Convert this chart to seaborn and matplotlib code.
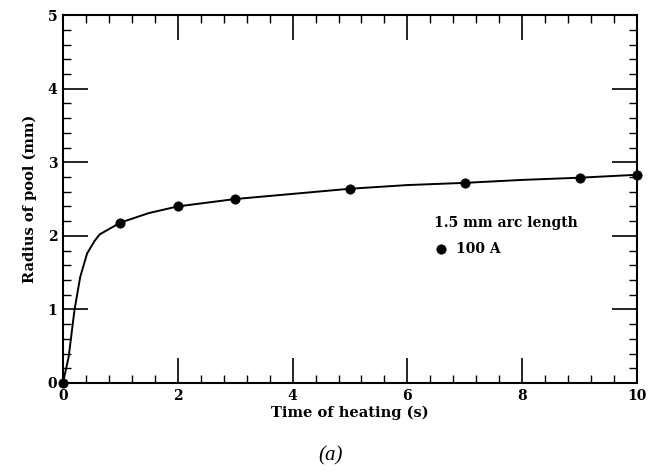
import matplotlib
matplotlib.use("Agg")
import matplotlib.pyplot as plt
import seaborn as sns
import pandas as pd
from matplotlib.ticker import MultipleLocator

# Measured points (100 A, 1.5 mm arc length)
time_pts = [0, 1, 2, 3, 5, 7, 9, 10]
radius_pts = [0.0, 2.18, 2.40, 2.50, 2.64, 2.72, 2.79, 2.83]

# Fitted curve
time_curve = [0, 0.1, 0.2, 0.3, 0.42, 0.55, 0.64, 0.82, 1, 1.5, 2, 3, 4, 5, 6, 7, 8, 9, 10]
radius_curve = [0, 0.36, 0.99, 1.44, 1.76, 1.93, 2.02, 2.10, 2.18, 2.31, 2.40, 2.50, 2.57, 2.64, 2.69, 2.72, 2.76, 2.79, 2.83]

x_ticks = [0, 2, 4, 6, 8, 10]
y_ticks = [0, 1, 2, 3, 4, 5]

sns.set_style("ticks")
plt.rcParams['font.family'] = ['DejaVu Serif', 'DejaVu Sans']
plt.rcParams['text.color'] = 'black'
plt.rcParams['axes.labelcolor'] = 'black'
plt.rcParams['xtick.color'] = 'black'
plt.rcParams['ytick.color'] = 'black'

fig = plt.figure(figsize=(6.54, 4.72), dpi=100)
ax = fig.add_axes([0.0963, 0.1886, 0.8777, 0.7794])

df_curve = pd.DataFrame({"t": time_curve, "r": radius_curve})
df_pts = pd.DataFrame({"t": time_pts, "r": radius_pts})

sns.lineplot(data=df_curve, x="t", y="r", ax=ax, color="black", linewidth=1.4, legend=False)
sns.scatterplot(data=df_pts, x="t", y="r", ax=ax, color="black", s=45, edgecolor="black",
                label="100 A", clip_on=False, zorder=5)

ax.set_xlim(0, 10)
ax.set_ylim(0, 5)
ax.set_xticks(x_ticks)
ax.set_yticks(y_ticks)
ax.xaxis.set_minor_locator(MultipleLocator(0.4))
ax.yaxis.set_minor_locator(MultipleLocator(0.2))
ax.tick_params(which="major", direction="in", length=18, width=1.2, top=True, right=True,
               labelsize=10, pad=4, color="black", labelcolor="black")
ax.tick_params(which="minor", direction="in", length=6, width=1.0, top=True, right=True, color="black")
for lab in ax.get_xticklabels() + ax.get_yticklabels():
    lab.set_fontweight("bold")
for sp in ax.spines.values():
    sp.set_linewidth(1.5)
    sp.set_color("black")

ax.set_xlabel("Time of heating (s)", fontsize=10.5, fontweight="bold", labelpad=2, color="black")
ax.set_ylabel("Radius of pool (mm)", fontsize=10.5, fontweight="bold", labelpad=8, color="black")

leg = ax.legend(title="1.5 mm arc length", loc="upper left", bbox_to_anchor=(0.637, 0.47),
                frameon=False, fontsize=10, title_fontsize=10, handletextpad=0.6,
                handlelength=1.0, borderaxespad=0, labelspacing=1.0)
leg._legend_box.align = "left"
leg._legend_box.sep = 9
plt.setp(leg.get_title(), fontweight="bold", color="black")
for t in leg.get_texts():
    t.set_fontweight("bold")
    t.set_color("black")

fig.text(0.505, 0.035, "(a)", fontsize=15, style="italic", family="Liberation Serif",
         ha="center", va="center", color="black")

fig.savefig("out.png", dpi=100)
